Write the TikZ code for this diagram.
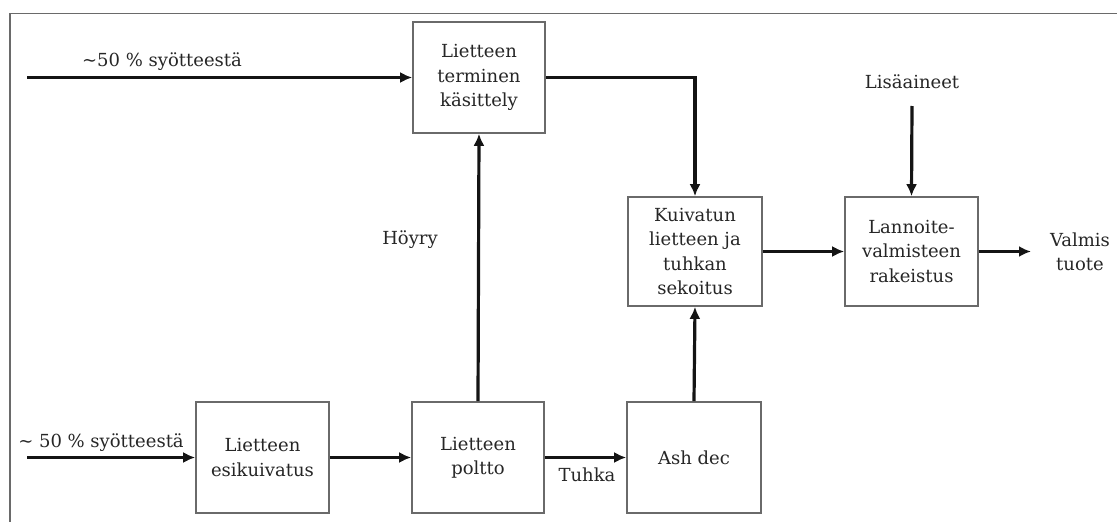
\documentclass[tikz,border=0pt]{standalone}
\usepackage{fontspec}
\setmainfont{DejaVu Serif}
\usetikzlibrary{arrows.meta}
\definecolor{txt}{HTML}{262626}
\definecolor{edge}{HTML}{6A6A6A}
\begin{document}
\begin{tikzpicture}[x=1pt,y=-1pt,
  proc/.style={draw=edge, line width=1.6pt, fill=white, text=txt, align=center,
    inner sep=0pt, font=\fontsize{18}{24.5}\selectfont},
  lbl/.style={text=txt, align=center, inner sep=0pt, font=\fontsize{18}{24.5}\selectfont},
  flow/.style={line width=3.2pt, black!92, -{Latex[length=12pt,width=11pt]}}]
\useasboundingbox (0,0) rectangle (1117,522);
% outer frame (top and left edges)
\draw[edge, line width=1.8pt] (10,522) -- (10,13.5) -- (1117,13.5);

% process boxes
\node[proc, minimum width=132pt, minimum height=111pt] (term) at (479,77.5)
  {Lietteen\\terminen\\käsittely};
\node[proc, minimum width=134pt, minimum height=109pt] (mix) at (695,251.5)
  {Kuivatun\\lietteen ja\\tuhkan\\sekoitus};
\node[proc, minimum width=133pt, minimum height=109pt] (gran) at (911.5,251.5)
  {Lannoite-\\valmisteen\\rakeistus};
\node[proc, minimum width=133pt, minimum height=111pt] (pre) at (262.5,457.5)
  {Lietteen\\esikuivatus};
\node[proc, minimum width=132pt, minimum height=111pt] (burn) at (478,457.5)
  {Lietteen\\poltto};
\node[proc, minimum width=134pt, minimum height=111pt] (ash) at (694,457.5)
  {Ash dec};

% free labels and end points
\node[lbl] (feedA) at (162,62) {\textasciitilde50 \% syötteestä};
\node[lbl] (feedB) at (101,443) {\textasciitilde{} 50 \% syötteestä};
\node[lbl] (add) at (912,82) {Lisäaineet};
\node[lbl] (prod) at (1080,252) {Valmis\\tuote};
\node[lbl] (steam) at (410,240) {Höyry};
\node[lbl] (ashlbl) at (587,475) {Tuhka};
\coordinate (inA) at (27,77.5);
\coordinate (inB) at (27,457.5);
\coordinate (addtop) at (912,106);
\coordinate (out) at (1031,251.5);

% flows
\draw[flow] (inA) -- (term.west);
\draw[flow] (term.east) -| (mix.north);
\draw[flow] (addtop) -- (gran.north);
\draw[flow] (mix.east) -- (gran.west);
\draw[flow] (gran.east) -- (out);
\draw[flow] (inB) -- (pre.west);
\draw[flow] (pre.east) -- (burn.west);
\draw[flow] (burn.east) -- (ash.west);
\draw[flow] (burn.north) -- (term.south);
\draw[flow] (ash.north) -- (mix.south);
\end{tikzpicture}
\end{document}
